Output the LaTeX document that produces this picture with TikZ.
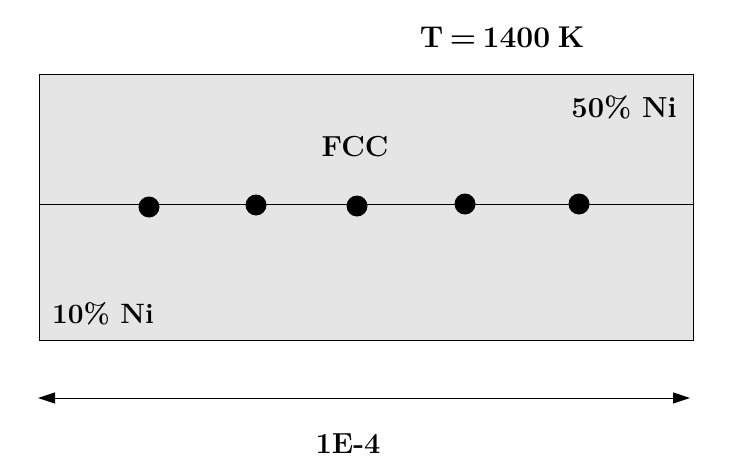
\documentclass[tikz,border=0pt]{standalone}
\usepackage{fontspec}
\setmainfont{Latin Modern Roman}
\usetikzlibrary{arrows.meta}
\definecolor{boxgray}{RGB}{229,229,229}
\begin{document}
\begin{tikzpicture}[x=1pt,y=-1pt,
  lbl/.style={font=\fontsize{29}{32}\selectfont\bfseries, inner sep=0pt, anchor=base},
  atom/.style={circle, fill=black, minimum size=21pt, inner sep=0pt},
  frame/.style={draw=black, line width=1pt, fill=boxgray}]
\useasboundingbox (0,0) rectangle (742,471);
\node[frame, minimum width=654pt, minimum height=266pt, inner sep=0pt, anchor=north west] (box) at (39,74) {};
\coordinate (ll) at (39,204);
\coordinate (lr) at (693,204);
\draw[line width=0.8pt] (ll) -- (lr);
\node[atom] (a1) at (149,207) {};
\node[atom] (a2) at (256,205) {};
\node[atom] (a3) at (357,206) {};
\node[atom] (a4) at (465,204) {};
\node[atom] (a5) at (579,204) {};
\node[lbl, font=\fontsize{30}{34}\selectfont\bfseries] (temp) at (502,47) {T\hspace{0.22em}=\hspace{0.22em}1400\hspace{0.25em}K};
\node[lbl, anchor=base east] (ni50) at (677,117) {50\% Ni};
\node[lbl] (fcc) at (355,156) {FCC};
\node[lbl, anchor=base west, font=\fontsize{28}{32}\selectfont\bfseries] (ni10) at (52,323) {10\% Ni};
\node[lbl] (len) at (348,453) {1E-4};
\coordinate (al) at (38,398);
\coordinate (ar) at (690,398);
\draw[line width=1pt, {Triangle[length=17pt,width=11pt]}-{Triangle[length=17pt,width=11pt]}] (al) -- (ar);
\end{tikzpicture}
\end{document}
